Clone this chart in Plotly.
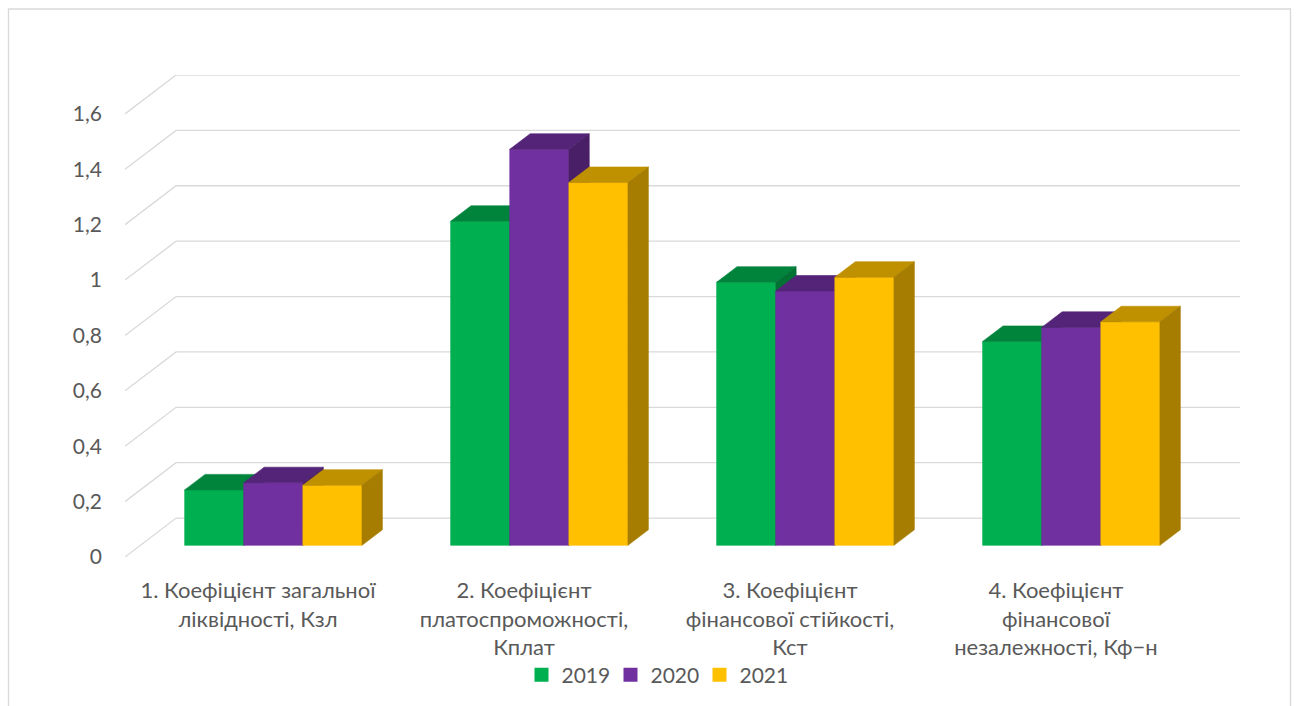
import plotly.graph_objects as go

# ---------------- data ----------------
categories = [
    "1. Коефіцієнт загальної<br>ліквідності, Кзл",
    "2. Коефіцієнт<br>платоспроможності,<br>Кплат",
    "3. Коефіцієнт<br>фінансової стійкості,<br>Кст",
    "4. Коефіцієнт<br>фінансової<br>незалежності, Кф−н",
]
years = ["2019", "2020", "2021"]
v2019 = [0.20, 1.17, 0.95, 0.736]
v2020 = [0.226, 1.43, 0.918, 0.787]
v2021 = [0.217, 1.31, 0.968, 0.807]
y_ticks = [0, 0.2, 0.4, 0.6, 0.8, 1.0, 1.2, 1.4, 1.6]
y_tick_labels = ["0", "0,2", "0,4", "0,6", "0,8", "1", "1,2", "1,4", "1,6"]

series = [v2019, v2020, v2021]

# ---------------- style ----------------
front_colors = ["#00B050", "#7030A0", "#FFC000"]
top_colors = ["#00843C", "#542478", "#BF9000"]
side_colors = ["#007234", "#491F68", "#A67D00"]
grid_color = "#D9D9D9"
text_color = "#595959"
FONT = "Lato, 'Noto Sans', sans-serif"

W, H = 1296, 706
ML, MR, MT, MB = 125, 56, 75, 149
DX = 0.192      # depth shift in category units
DY = 0.1405     # depth shift in value units
D0, D1 = 0.30, 0.70   # bar depth span (fraction of floor depth)
GAP = 1.5       # gap width relative to bar width
n_ser = len(series)
bar_w = 1.0 / (n_ser + GAP)


def proj(x, v, d):
    return x + d * DX, v + d * DY


def poly(pts):
    xs = [p[0] for p in pts] + [pts[0][0]]
    ys = [p[1] for p in pts] + [pts[0][1]]
    return xs, ys


fig = go.Figure()

# gridlines (side wall diagonal + back wall)
gx, gy = [], []
ncat = len(categories)
for t in y_ticks:
    for pt in (proj(0, t, 0), proj(0, t, 1), proj(ncat, t, 1)):
        gx.append(pt[0]); gy.append(pt[1])
    gx.append(None); gy.append(None)
fig.add_trace(go.Scatter(x=gx, y=gy, mode="lines", line=dict(color=grid_color, width=1.3),
                         hoverinfo="skip", showlegend=False))

# bars
for i in range(ncat):
    for k, vals in enumerate(series):
        v = vals[i]
        xl = i + GAP / 2 * bar_w + k * bar_w
        xr = xl + bar_w
        faces = [
            ([proj(xl, 0, D0), proj(xr, 0, D0), proj(xr, v, D0), proj(xl, v, D0)], front_colors[k]),
            ([proj(xl, v, D0), proj(xr, v, D0), proj(xr, v, D1), proj(xl, v, D1)], top_colors[k]),
            ([proj(xr, 0, D0), proj(xr, 0, D1), proj(xr, v, D1), proj(xr, v, D0)], side_colors[k]),
        ]
        for pts, col in faces:
            xs, ys = poly(pts)
            fig.add_trace(go.Scatter(x=xs, y=ys, mode="lines", fill="toself", fillcolor=col,
                                     line=dict(color=col, width=0.6), hoverinfo="skip",
                                     showlegend=False))

# legend entries
for k, yr in enumerate(years):
    fig.add_trace(go.Scatter(x=[None], y=[None], mode="markers", name=yr,
                             marker=dict(symbol="square", size=14, color=front_colors[k])))

pw = W - ML - MR
ph = H - MT - MB


def px2paper_x(px):
    return (px - ML) / pw


def px2paper_y(py):
    return (H - MB - py) / ph


fig.update_layout(
    width=W, height=H,
    margin=dict(l=ML, r=MR, t=MT, b=MB, autoexpand=False),
    paper_bgcolor="white", plot_bgcolor="white",
    font=dict(family=FONT, size=21, color=text_color),
    xaxis=dict(range=[0, ncat + DX], tickvals=[i + 0.5 for i in range(ncat)], ticktext=categories,
               showgrid=False, zeroline=False, showline=False, ticks="", ticklabelstandoff=18,
               tickfont=dict(size=22, color=text_color), fixedrange=True, automargin=False),
    yaxis=dict(range=[0, y_ticks[-1] + DY], tickvals=y_ticks, ticktext=y_tick_labels,
               showgrid=False, zeroline=False, showline=False, ticks="", ticklabelstandoff=22,
               tickfont=dict(size=21, color=text_color), fixedrange=True, automargin=False),
    legend=dict(orientation="h", xref="container", yref="container",
                x=655 / W, xanchor="center", y=(H - 675) / H, yanchor="middle",
                font=dict(size=21, color=text_color), entrywidth=44, entrywidthmode="pixels",
                itemwidth=30, bgcolor="rgba(0,0,0,0)"),
    shapes=[dict(type="rect", xref="paper", yref="paper",
                 x0=px2paper_x(8.5), x1=px2paper_x(1290.5),
                 y0=px2paper_y(730), y1=px2paper_y(9),
                 line=dict(color=grid_color, width=1.3), fillcolor="rgba(0,0,0,0)", layer="below")],
)

fig.write_html("out.html", config={"displayModeBar": False},
               post_script="document.body.style.margin='0';")
